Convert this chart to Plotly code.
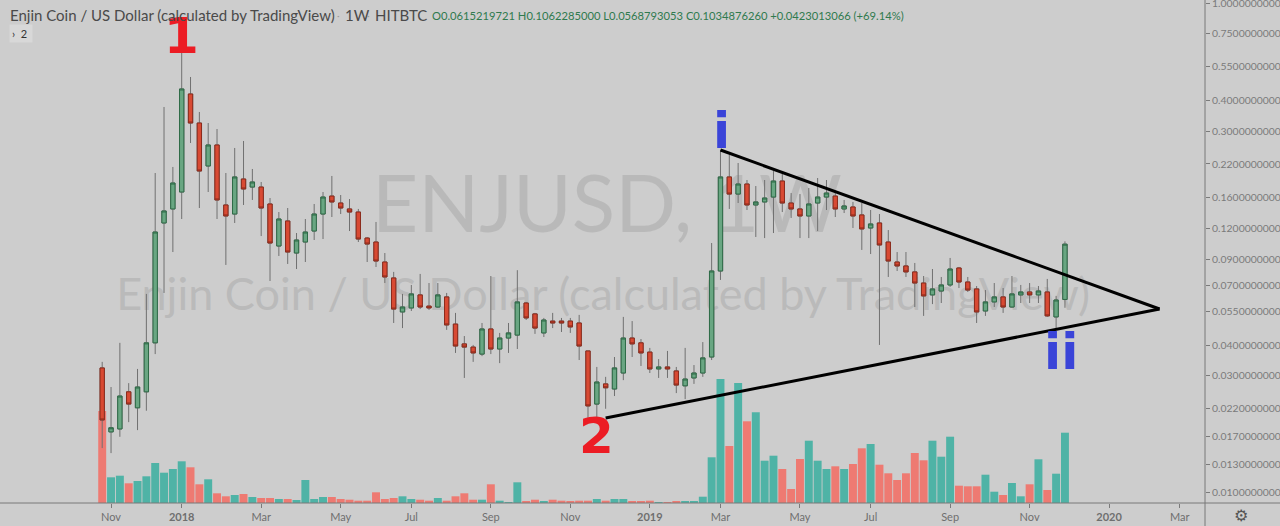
import math
import pandas as pd
import plotly.graph_objects as go

# ---------------- data (weekly ENJUSD candles) ----------------
first_week = "2017-10-30"
n_weeks = 110
dates = pd.date_range(first_week, periods=n_weeks, freq="7D")

opens = [0.0323, 0.0177, 0.0182, 0.0258, 0.0222, 0.0258, 0.0409, 0.1263, 0.1441, 0.1690,
         0.4249, 0.3234, 0.2159, 0.2630, 0.1496, 0.1374, 0.1910, 0.1771, 0.1771, 0.1510,
         0.1017, 0.1287, 0.0952, 0.1056, 0.1171, 0.1374, 0.1627, 0.1524, 0.1441, 0.1400,
         0.1096, 0.1056, 0.0875, 0.0753, 0.0547, 0.0568, 0.0642, 0.0578, 0.0573, 0.0630,
         0.0488, 0.0405, 0.0393, 0.0368, 0.0466, 0.0386, 0.0428, 0.0440, 0.0595, 0.0537,
         0.0449, 0.0502, 0.0502, 0.0502, 0.0493, 0.0379, 0.0230, 0.0278, 0.0265, 0.0308,
         0.0428, 0.0409, 0.0375, 0.0320, 0.0326, 0.0314, 0.0273, 0.0294, 0.0308, 0.0358,
         0.0804, 0.1947, 0.1658, 0.1822, 0.1496, 0.1539, 0.1612, 0.1874, 0.1524, 0.1441,
         0.1349, 0.1524, 0.1612, 0.1627, 0.1441, 0.1468, 0.1362, 0.1205, 0.1263, 0.1056,
         0.0875, 0.0843, 0.0797, 0.0718, 0.0642, 0.0666, 0.0705, 0.0827, 0.0725, 0.0679,
         0.0552, 0.0601, 0.0630, 0.0573, 0.0642, 0.0660, 0.0642, 0.0660, 0.0522, 0.0615219721]
highs = [0.0342, 0.0270, 0.0409, 0.0280, 0.0320, 0.0648, 0.2021, 0.3760, 0.2139, 0.6307,
         0.4986, 0.3588, 0.3234, 0.3057, 0.2021, 0.2557, 0.2731, 0.2099, 0.1857, 0.1597,
         0.1400, 0.1454, 0.1149, 0.1311, 0.1510, 0.1690, 0.1965, 0.1643, 0.1582, 0.1441,
         0.1107, 0.1275, 0.0952, 0.0797, 0.0648, 0.0705, 0.0782, 0.0718, 0.0718, 0.0654,
         0.0542, 0.0436, 0.0401, 0.0493, 0.0767, 0.0449, 0.0493, 0.0810, 0.0601, 0.0542,
         0.0517, 0.0542, 0.0517, 0.0517, 0.0532, 0.0379, 0.0326, 0.0297, 0.0358, 0.0522,
         0.0502, 0.0424, 0.0390, 0.0351, 0.0379, 0.0326, 0.0390, 0.0332, 0.0412, 0.1046,
         0.2509, 0.2394, 0.2220, 0.1892, 0.1788, 0.1892, 0.2059, 0.2002, 0.1674, 0.1658,
         0.1755, 0.1928, 0.1892, 0.1690, 0.1568, 0.1539, 0.1524, 0.1427, 0.1374, 0.1182,
         0.0961, 0.0961, 0.0867, 0.0767, 0.0819, 0.0760, 0.0909, 0.0835, 0.0760, 0.0698,
         0.0672, 0.0718, 0.0685, 0.0767, 0.0705, 0.0718, 0.0698, 0.0746, 0.0636, 0.1062285000]
lows = [0.0152, 0.0145, 0.0169, 0.0194, 0.0180, 0.0216, 0.0368, 0.0654, 0.0961, 0.1311,
        0.2680, 0.1454, 0.1690, 0.1311, 0.0851, 0.1263, 0.1496, 0.1568, 0.1117, 0.0732,
        0.0926, 0.0859, 0.0819, 0.0875, 0.1076, 0.1086, 0.1336, 0.1374, 0.1171, 0.1056,
        0.0875, 0.0835, 0.0718, 0.0493, 0.0470, 0.0552, 0.0562, 0.0557, 0.0568, 0.0462,
        0.0372, 0.0294, 0.0342, 0.0361, 0.0368, 0.0338, 0.0372, 0.0386, 0.0507, 0.0445,
        0.0432, 0.0470, 0.0453, 0.0449, 0.0348, 0.0202, 0.0202, 0.0220, 0.0248, 0.0288,
        0.0358, 0.0329, 0.0308, 0.0294, 0.0294, 0.0255, 0.0241, 0.0278, 0.0297, 0.0348,
        0.0739, 0.1441, 0.1524, 0.1427, 0.1107, 0.1096, 0.1149, 0.1400, 0.1324, 0.1096,
        0.1096, 0.1171, 0.1427, 0.1336, 0.1387, 0.1205, 0.0980, 0.0943, 0.0401, 0.0760,
        0.0804, 0.0760, 0.0573, 0.0527, 0.0589, 0.0595, 0.0692, 0.0685, 0.0660, 0.0493,
        0.0527, 0.0573, 0.0542, 0.0568, 0.0595, 0.0595, 0.0595, 0.0522, 0.0462, 0.0568793053]
closes = [0.0198, 0.0184, 0.0248, 0.0230, 0.0270, 0.0409, 0.1160, 0.1414, 0.1839, 0.4454,
          0.3234, 0.2059, 0.2630, 0.1568, 0.1349, 0.1947, 0.1739, 0.1857, 0.1454, 0.1046,
          0.1311, 0.0961, 0.1076, 0.1160, 0.1374, 0.1612, 0.1539, 0.1454, 0.1400, 0.1086,
          0.1036, 0.0883, 0.0760, 0.0562, 0.0573, 0.0648, 0.0573, 0.0568, 0.0642, 0.0484,
          0.0397, 0.0393, 0.0372, 0.0466, 0.0386, 0.0428, 0.0449, 0.0601, 0.0517, 0.0470,
          0.0507, 0.0493, 0.0493, 0.0475, 0.0397, 0.0226, 0.0283, 0.0268, 0.0323, 0.0428,
          0.0405, 0.0372, 0.0320, 0.0326, 0.0320, 0.0275, 0.0291, 0.0308, 0.0355, 0.0804,
          0.1947, 0.1658, 0.1822, 0.1496, 0.1539, 0.1597, 0.1874, 0.1524, 0.1441, 0.1349,
          0.1510, 0.1612, 0.1674, 0.1441, 0.1482, 0.1349, 0.1194, 0.1251, 0.1027, 0.0883,
          0.0843, 0.0797, 0.0718, 0.0636, 0.0679, 0.0705, 0.0819, 0.0725, 0.0672, 0.0547,
          0.0601, 0.0630, 0.0573, 0.0648, 0.0660, 0.0642, 0.0666, 0.0527, 0.0612, 0.1034876260]
volumes = [92, 25.7, 27.3, 19.7, 22, 26.7, 40, 30.3, 34, 41.7,
           35.7, 18.7, 23.7, 9.7, 6.7, 8, 9, 6, 5, 5,
           4, 4, 3, 23, 4, 6, 6, 4, 3.3, 2.3,
           2.3, 10.7, 4, 5, 6.7, 4, 3.3, 2.3, 5, 2.3,
           6.7, 9.7, 3.3, 3.3, 18.7, 2.3, 0.7, 20.7, 1.7, 3.3,
           1.7, 3.3, 2.3, 1.3, 2.3, 2.3, 4, 2.3, 4, 4,
           1.7, 1.7, 2.3, 0.7, 1, 1.7, 1.7, 1.7, 6.3, 45.7,
           124, 57, 120, 81.7, 90.7, 42.3, 47.3, 34, 14, 44,
           62.3, 42.3, 34, 36.7, 34, 39, 54.7, 59, 38.3, 29.7,
           23, 29.7, 50, 42.7, 62.3, 46.3, 66.3, 17.3, 16.7, 16.7,
           28.3, 11.3, 8, 20, 6.7, 18.7, 43.7, 13, 29.3, 70.3]

# price-axis ticks
price_ticks = [1.0, 0.75, 0.55, 0.40, 0.30, 0.22, 0.16, 0.12, 0.09, 0.07, 0.055,
               0.04, 0.03, 0.022, 0.017, 0.013, 0.010]
# time-axis ticks
time_tick_dates = ["2017-11-06", "2018-01-01", "2018-03-05", "2018-05-07", "2018-07-02",
                   "2018-09-03", "2018-11-05", "2019-01-07", "2019-03-04", "2019-05-06",
                   "2019-07-01", "2019-09-02", "2019-11-04", "2020-01-06", "2020-03-02"]
time_tick_labels = ["Nov", "2018", "Mar", "May", "Jul", "Sep", "Nov", "2019", "Mar",
                    "May", "Jul", "Sep", "Nov", "2020", "Mar"]

# drawn triangle (trend lines)
upper_line_dates = ["2019-03-04", "2020-02-15"]
upper_line_prices = [0.2509, 0.05624]
lower_line_dates = ["2018-12-03", "2020-02-15"]
lower_line_prices = [0.02017, 0.05624]

# wave labels
wave_labels = ["1", "2", "i", "ii"]
wave_dates = ["2018-01-01", "2018-11-26", "2019-03-05", "2019-11-29"]
wave_prices = [0.73, 0.0170, 0.300, 0.0375]
wave_colors = ["#ec1c24", "#ec1c24", "#3a44d8", "#3a44d8"]

header_ohlc = "O0.0615219721 H0.1062285000 L0.0568793053 C0.1034876260 +0.0423013066 (+69.14%)"

# ---------------- styling ----------------
BG = "#cdcdcd"
UP_FILL, UP_LINE = "#69a682", "#2e6b47"
DN_FILL, DN_LINE = "#d84a33", "#8c2b1c"
WICK = "#707070"
VOL_UP, VOL_DN = "#4fb3a6", "#ee7a72"
FONT = "Lato"

vol_colors = [VOL_UP if c >= o else VOL_DN for o, c in zip(opens, closes)]
body_hi = [max(o, c) for o, c in zip(opens, closes)]
body_lo = [min(o, c) for o, c in zip(opens, closes)]

fig = go.Figure()

# watermark (bottom layer, on the hidden volume axis)
fig.add_trace(go.Scatter(
    x=[pd.Timestamp("2018-12-04"), pd.Timestamp("2018-12-01")], y=[291, 204],
    mode="text", text=["ENJUSD, 1W", "Enjin Coin / US Dollar (calculated by TradingView)"],
    textfont=dict(family=FONT, size=[80, 45], color="rgba(170,170,170,0.55)"),
    textposition="middle center", hoverinfo="skip", showlegend=False, yaxis="y"))

# volume
fig.add_trace(go.Bar(x=dates, y=volumes, marker=dict(color=vol_colors, line=dict(width=0)),
                     width=6.3 * 86400000, yaxis="y", showlegend=False, hoverinfo="skip"))

# wicks
fig.add_trace(go.Candlestick(
    x=dates, open=opens, high=highs, low=lows, close=closes, yaxis="y2",
    increasing=dict(line=dict(color=WICK, width=1), fillcolor=WICK),
    decreasing=dict(line=dict(color=WICK, width=1), fillcolor=WICK),
    whiskerwidth=0, showlegend=False, hoverinfo="skip"))
# bodies
fig.add_trace(go.Candlestick(
    x=dates, open=opens, high=body_hi, low=body_lo, close=closes, yaxis="y2",
    increasing=dict(line=dict(color=UP_LINE, width=1), fillcolor=UP_FILL),
    decreasing=dict(line=dict(color=DN_LINE, width=1), fillcolor=DN_FILL),
    whiskerwidth=0, showlegend=False, hoverinfo="skip"))

# trend lines
for xs, ys in [(upper_line_dates, upper_line_prices), (lower_line_dates, lower_line_prices)]:
    fig.add_trace(go.Scatter(x=xs, y=ys, mode="lines", yaxis="y2",
                             line=dict(color="#000000", width=3), showlegend=False,
                             hoverinfo="skip"))

annotations = []
for t, d, p, c in zip(wave_labels, wave_dates, wave_prices, wave_colors):
    annotations.append(dict(x=d, y=math.log10(p), xref="x", yref="y2", text=f"<b>{t}</b>",
                            showarrow=False, font=dict(family="DejaVu Sans", size=50, color=c),
                            xanchor="center", yanchor="middle"))

W, H = 1205, 503
def px(x):
    return x / W
def py(y):
    return 1 - y / H

# header
annotations += [
    dict(x=px(8), y=py(15), xref="paper", yref="paper", xanchor="left", yanchor="middle",
         text="Enjin Coin / US Dollar (calculated by TradingView)", showarrow=False,
         font=dict(family=FONT, size=15, color="#4a4a4a")),
    dict(x=px(338), y=py(15), xref="paper", yref="paper", xanchor="center", yanchor="middle",
         text="·", showarrow=False, font=dict(family=FONT, size=10, color="#9a9a9a")),
    dict(x=px(343), y=py(15), xref="paper", yref="paper", xanchor="left", yanchor="middle",
         text="1W", showarrow=False, font=dict(family=FONT, size=15, color="#4a4a4a")),
    dict(x=px(368), y=py(15), xref="paper", yref="paper", xanchor="center", yanchor="middle",
         text="·", showarrow=False, font=dict(family=FONT, size=10, color="#9a9a9a")),
    dict(x=px(373), y=py(15), xref="paper", yref="paper", xanchor="left", yanchor="middle",
         text="HITBTC", showarrow=False, font=dict(family=FONT, size=15, color="#4a4a4a")),
    dict(x=px(430), y=py(15), xref="paper", yref="paper", xanchor="left", yanchor="middle",
         text=header_ohlc, showarrow=False, font=dict(family=FONT, size=11.2, color="#2f7a4e")),
    dict(x=px(9), y=py(34), xref="paper", yref="paper", xanchor="left", yanchor="middle",
         text="›  2 ", showarrow=False, bgcolor="#d8d8d8", borderpad=2,
         font=dict(family=FONT, size=11, color="#333333")),
    dict(x=px(1241), y=py(515), xref="paper", yref="paper", xanchor="center", yanchor="middle",
         text="⚙", showarrow=False, font=dict(family="DejaVu Sans", size=16, color="#555555")),
]

fig.update_layout(
    width=1280, height=526,
    margin=dict(l=0, r=75, t=0, b=23, autoexpand=False),
    paper_bgcolor=BG, plot_bgcolor=BG,
    showlegend=False,
    annotations=annotations,
    xaxis=dict(type="date", range=["2017-08-10", "2020-03-22"], rangeslider=dict(visible=False),
               tickvals=time_tick_dates, automargin=False,
               ticktext=[f"<b>{t}</b>" if t.isdigit() else t for t in time_tick_labels],
               ticks="outside", ticklen=4, tickcolor="#7a7a7a", showgrid=False, showline=False,
               zeroline=False, tickfont=dict(family=FONT, size=11, color="#6f6f6f")),
    yaxis=dict(range=[0, 503], visible=False, fixedrange=True, automargin=False),
    yaxis2=dict(type="log", overlaying="y", side="right", automargin=False,
                range=[-2.04248, 0.01225], tickvals=price_ticks,
                ticktext=[f"{v:.10f}" for v in price_ticks],
                ticks="outside", ticklen=4, tickcolor="#7a7a7a", showgrid=False,
                showline=False, zeroline=False, ticklabeloverflow="allow",
                tickfont=dict(family=FONT, size=10.4, color="#7a7a7a")),
    shapes=[
        dict(type="line", xref="paper", yref="paper", x0=0, x1=1280 / W, y0=0, y1=0,
             line=dict(color="#787878", width=1)),
        dict(type="line", xref="paper", yref="paper", x0=1, x1=1, y0=-23 / H, y1=1,
             line=dict(color="#787878", width=1)),
    ],
)

fig.write_html("out.html",
               config={"displayModeBar": False},
               post_script="document.body.style.margin='0';document.body.style.padding='0';"
                           "document.body.style.overflow='hidden';")
